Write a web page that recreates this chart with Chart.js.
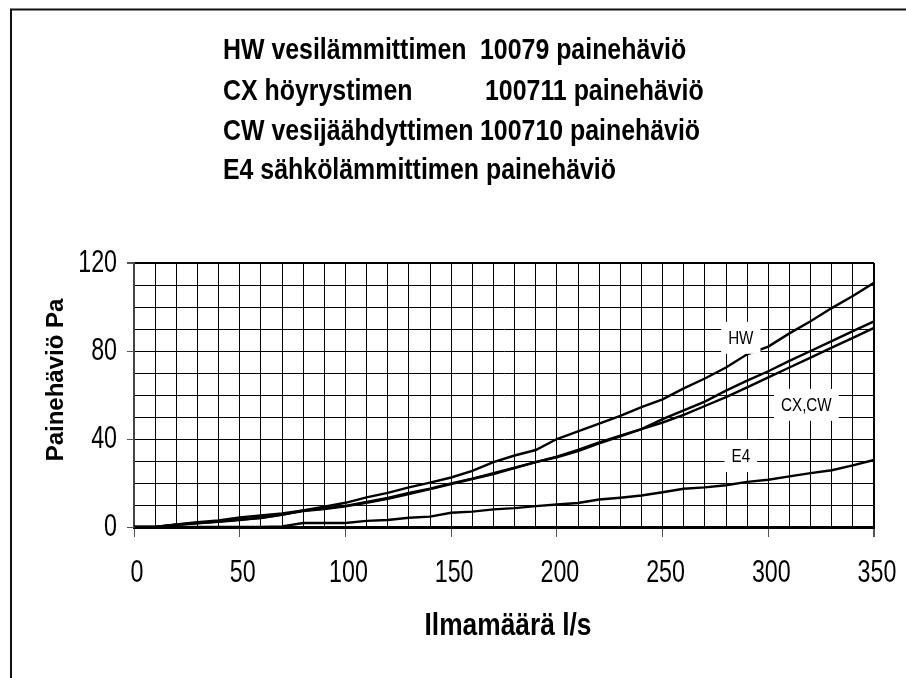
<!DOCTYPE html>
<html>
<head>
<meta charset="utf-8">
<script src="https://cdn.jsdelivr.net/npm/chart.js@4.4.1/dist/chart.umd.min.js"></script>
<style>
  html, body { margin: 0; padding: 0; background: #fff; }
  #wrap { width: 906px; height: 678px; }
</style>
</head>
<body>
<div id="wrap"><canvas id="chart" width="906" height="678"></canvas></div>
<script>
// air flow (l/s) and pressure drop (Pa)
const flow = [0, 10, 20, 30, 40, 50, 60, 70, 80, 90, 100, 110, 120, 130, 140, 150, 160, 170,
  180, 190, 200, 210, 220, 230, 240, 250, 260, 270, 280, 290, 300, 310, 320, 330, 340, 350];
const hwDrop = [0, 0, 1.2, 2.2, 3, 4.4, 5.2, 6.2, 7.5, 9.2, 11, 13.5, 15.5, 18, 20.2, 22.5, 25.5, 29.5,
  32.5, 35, 40, 43.5, 47, 50.5, 54.5, 58, 63, 67.5, 72.5, 78.5, 82, 88, 93.5, 99.5, 105, 111];
const cxDrop = [0, 0, 1, 1.8, 2.5, 3.4, 4.1, 5.5, 7.5, 8.4, 9.6, 11.4, 13.2, 15.5, 17.4, 19.8, 22, 24.5,
  27, 29.5, 32, 35, 38.5, 41.5, 44.5, 49, 53, 57, 62, 66.5, 70.8, 75.5, 80, 84.5, 89, 93.5];
const cwDrop = [0, 0, 1, 1.7, 2.4, 3.2, 4.2, 5.7, 7.2, 8.2, 9.4, 11, 12.8, 15, 17.2, 19.5, 21.8, 24,
  26.8, 29.5, 31.7, 34.5, 38, 41.2, 44.5, 47.5, 51, 55, 59, 63.5, 68, 72.5, 77, 81.5, 86, 90.5];
const e4Drop = [0, 0, 0, 0, 0, 0, 0, 0.3, 1.8, 1.8, 1.8, 2.8, 3.2, 4.2, 4.7, 6.5, 7, 8,
  8.6, 9.5, 10.2, 10.9, 12.5, 13.3, 14.3, 15.8, 17.4, 18, 19, 20.5, 21.5, 23, 24.5, 25.8, 28, 30.5];

const seriesNames = ['HW', 'CX', 'CW', 'E4'];
const xLabelStep = 50;
const yLabelStep = 40;

// curve labels, placed in data units
const curveLabels = ['HW', 'CX,CW', 'E4'];
const curveLabelX = [287, 318, 287];
const curveLabelY = [86, 55.5, 32.3];

const titleLeft = ['HW vesilämmittimen', 'CX höyrystimen', 'CW vesijäähdyttimen', 'E4 sähkölämmittimen painehäviö'];
const titleRight = ['10079 painehäviö', '100711 painehäviö', '100710 painehäviö', ''];
const xTitle = 'Ilmamäärä l/s';
const yTitle = 'Painehäviö Pa';

const SANS = '"Liberation Sans", Arial, sans-serif';

function pts(ys) {
  return flow.map((x, i) => ({ x, y: ys[i] }));
}

// the original's type is squeezed sideways, so scale it on the canvas
function squeezedText(ctx, text, x, y, sx, align) {
  ctx.save();
  ctx.translate(x, y);
  ctx.scale(sx, 1);
  ctx.textAlign = align || 'left';
  ctx.fillText(text, 0, 0);
  ctx.restore();
}

const paperPlugin = {
  id: 'paper',
  beforeDraw(chart) {
    const ctx = chart.ctx;
    ctx.save();
    ctx.fillStyle = '#fff';
    ctx.fillRect(0, 0, chart.width, chart.height);
    ctx.lineWidth = 2;
    ctx.strokeStyle = '#111';
    ctx.beginPath();
    ctx.moveTo(11, chart.height);
    ctx.lineTo(11, 9.5);
    ctx.lineTo(chart.width, 9.5);
    ctx.stroke();
    ctx.restore();
  },
  afterDatasetsDraw(chart) {
    const ctx = chart.ctx;
    const xs = chart.scales.x, ys = chart.scales.y;
    ctx.save();
    ctx.font = '19px ' + SANS;
    ctx.textBaseline = 'middle';
    curveLabels.forEach((txt, i) => {
      const px = xs.getPixelForValue(curveLabelX[i]);
      const py = ys.getPixelForValue(curveLabelY[i]);
      const w = ctx.measureText(txt).width * 0.8 + 14;
      ctx.fillStyle = '#fff';
      ctx.fillRect(px - w / 2, py - 16, w, 32);
      ctx.fillStyle = '#000';
      squeezedText(ctx, txt, px, py + 1, 0.8, 'center');
    });
    ctx.restore();
  },
  afterDraw(chart) {
    const ctx = chart.ctx;
    const ca = chart.chartArea;
    const xs = chart.scales.x, ys = chart.scales.y;
    ctx.save();
    ctx.fillStyle = '#000';

    // tick labels from the scales' own ticks
    ctx.font = '31px ' + SANS;
    ctx.textBaseline = 'alphabetic';
    xs.ticks.forEach(t => {
      if (t.value % xLabelStep !== 0) return;
      squeezedText(ctx, String(t.value), xs.getPixelForValue(t.value) + 3, 582, 0.75, 'center');
    });
    ctx.textBaseline = 'middle';
    ys.ticks.forEach(t => {
      if (t.value % yLabelStep !== 0) return;
      squeezedText(ctx, String(t.value), 117, ys.getPixelForValue(t.value), 0.75, 'right');
    });

    ctx.textBaseline = 'alphabetic';
    ctx.font = 'bold 30px ' + SANS;
    const base = [59, 100, 140, 179];
    const rightX = [480, 485, 480];
    titleLeft.forEach((t, i) => {
      squeezedText(ctx, t, 223, base[i], 0.83);
      if (titleRight[i]) squeezedText(ctx, titleRight[i], rightX[i], base[i], 0.83);
    });
    ctx.font = 'bold 31px ' + SANS;
    squeezedText(ctx, xTitle, (ca.left + ca.right) / 2 + 4, 635, 0.85, 'center');
    ctx.font = 'bold 24px ' + SANS;
    ctx.translate(63, 380);
    ctx.rotate(-Math.PI / 2);
    ctx.textAlign = 'center';
    ctx.fillText(yTitle, 0, 0);
    ctx.restore();
  }
};

new Chart(document.getElementById('chart'), {
  type: 'line',
  data: {
    datasets: [hwDrop, cxDrop, cwDrop, e4Drop].map((ys, i) => ({
      label: seriesNames[i],
      data: pts(ys),
      borderColor: '#000',
      borderWidth: 2.4,
      pointRadius: 0,
      tension: 0,
      fill: false,
    })),
  },
  options: {
    responsive: false,
    animation: false,
    events: [],
    layout: { padding: { top: 263, left: 0, right: 32, bottom: 0 } },
    plugins: { legend: { display: false }, tooltip: { enabled: false } },
    scales: {
      x: {
        type: 'linear', min: 0, max: 350,
        afterFit: s => { s.height = 151; s.paddingLeft = 0; s.paddingRight = 0; },
        ticks: { display: false, stepSize: 10, maxTicksLimit: 100, autoSkip: false },
        grid: {
          color: '#000',
          lineWidth: c => c.tick && c.tick.value === 350 ? 2 : 1,
          tickLength: 10,
          tickColor: c => c.tick && c.tick.value % xLabelStep === 0 ? '#555' : 'rgba(0,0,0,0)',
        },
        border: { display: true, color: '#000', width: 3 },
      },
      y: {
        type: 'linear', min: 0, max: 120,
        afterFit: s => { s.width = 134; s.paddingTop = 0; s.paddingBottom = 0; },
        ticks: { display: false, stepSize: 10, maxTicksLimit: 100, autoSkip: false },
        grid: {
          color: '#000',
          lineWidth: c => c.tick && c.tick.value === 120 ? 2 : 1,
          tickLength: 7,
          tickColor: c => c.tick && c.tick.value % yLabelStep === 0 ? '#555' : 'rgba(0,0,0,0)',
        },
        border: { display: true, color: '#444', width: 2 },
      },
    },
  },
  plugins: [paperPlugin],
});
</script>
</body>
</html>
